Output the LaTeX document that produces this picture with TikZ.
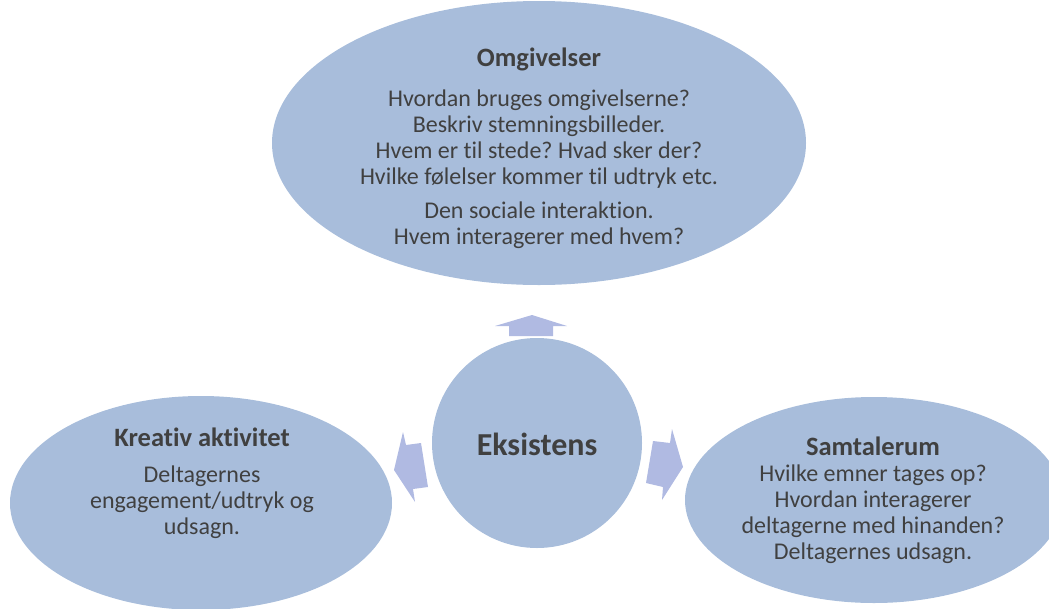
\documentclass[tikz,border=0pt]{standalone}
\usepackage{fontspec}
\setmainfont[Ligatures={NoCommon}]{Carlito}
\usetikzlibrary{shapes.geometric}
\definecolor{ellfill}{RGB}{168,189,219}
\definecolor{arrfill}{RGB}{176,186,226}
\definecolor{txt}{RGB}{64,64,64}
\tikzset{
  blob/.style={ellipse, fill=ellfill, draw=none, inner sep=0pt},
  lbl/.style={text=txt, font=\fontsize{24}{26}\selectfont, align=center, inner sep=0pt},
  ttl/.style={text=txt, font=\fontsize{26.5}{30}\selectfont\bfseries, inner sep=0pt},
  blockarrow/.style={fill=arrfill, draw=none}
}
\begin{document}
\frenchspacing
\begin{tikzpicture}[x=1pt,y=-1pt]
\useasboundingbox (0,0) rectangle (1049,608);
\path[clip] (0,0) rectangle (1049,608);
% shapes
\node[blob, minimum width=534, minimum height=284] (top) at (539,143) {};
\node[circle, fill=ellfill, minimum size=210, inner sep=0pt] (mid) at (537,443) {};
\node[blob, minimum width=382, minimum height=214] (left) at (201,503) {};
\node[blob, minimum width=378, minimum height=206] (right) at (874,500) {};
% block arrows
\fill[blockarrow] (509,336) -- (509,326) -- (495,326) -- (532,315) -- (567,326) -- (553,326) -- (553,336) -- cycle;
\fill[blockarrow] (421,443) -- (406,445) -- (403,432) -- (394,470) -- (415,502) -- (413,489) -- (428,487) -- cycle;
\fill[blockarrow] (653,441) -- (670,443) -- (672,429) -- (683,467) -- (662,500) -- (663,487) -- (646,483) -- cycle;
% texts
\node[ttl] (t1) at (539,59) {Omgivelser};
\node[lbl, anchor=north] (t1a) at (539,90) {Hvordan bruges omgivelserne?\\Beskriv stemningsbilleder.\\Hvem er til stede? Hvad sker der?\\Hvilke følelser kommer til udtryk etc.};
\node[lbl, anchor=north] (t1b) at (539,202) {Den sociale interaktion.\\Hvem interagerer med hvem?};
\node[text=txt, font=\fontsize{32}{36}\selectfont\bfseries, inner sep=0pt] (t2) at (537,444) {Eksistens};
\node[ttl] (t3) at (202,437) {Kreativ aktivitet};
\node[lbl, anchor=north] (t3a) at (202,466) {Deltagernes\\engagement/udtryk og\\udsagn.};
\node[ttl] (t4) at (873,446) {Samtalerum};
\node[lbl, anchor=north] (t4a) at (873,465) {Hvilke emner tages op?\\Hvordan interagerer\\deltagerne med hinanden?\\Deltagernes udsagn.};
\end{tikzpicture}
\end{document}
